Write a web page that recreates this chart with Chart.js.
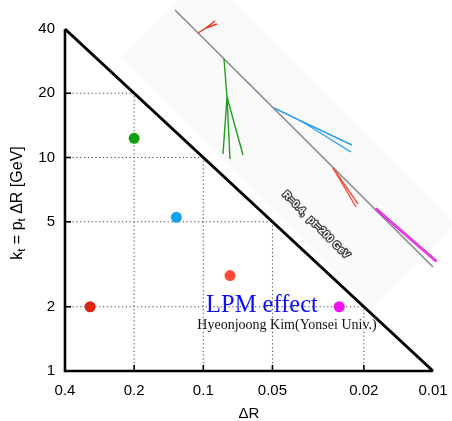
<!DOCTYPE html>
<html>
<head>
<meta charset="utf-8">
<script src="https://cdn.jsdelivr.net/npm/chart.js@4.4.0/dist/chart.umd.min.js"></script>
<style>
  html, body { margin: 0; padding: 0; background: #fff; }
  #wrap { width: 452px; height: 421px; }
</style>
</head>
<body>
<div id="wrap"><canvas id="lundPlane"></canvas></div>
<script>
// tick values
var xTicks = [0.4, 0.2, 0.1, 0.05, 0.02, 0.01];
var yTicks = [1, 2, 5, 10, 20, 40];

// emissions in the Lund plane
var emissionDR = [0.2, 0.131, 0.0765, 0.311, 0.0256];
var emissionKt = [12.3, 5.25, 2.8, 2.0, 2.0];
var emissionColors = ['#10a010', '#12a4f2', '#ff4b36', '#dc2410', '#ef12ef'];

// kinematic limit kt = pt * dR
var boundaryDR = [0.4, 0.01];
var boundaryKt = [40, 1];

var slope = Math.log(boundaryKt[1] / boundaryKt[0]) / Math.log(boundaryDR[1] / boundaryDR[0]);
function ktOnBoundary(dr) { return boundaryKt[0] * Math.pow(dr / boundaryDR[0], slope); }
function drOnBoundary(kt) { return boundaryDR[0] * Math.pow(kt / boundaryKt[0], 1 / slope); }

// jet picture pasted on the plot, offsets in px from chart area top-left
var jetPanel = [[55, 28], [140, -57], [391, 195], [306, 280]];
var jetAxis = [[110, -19], [368, 238]];
var jetBranches = [
  { color: '#e8321e', lines: [[[133, 4], [141, -1]], [[141, -1], [150, -8]], [[141, -1], [152, -5]]] },
  { color: '#1ea01e', lines: [[[159, 30], [162, 68]], [[162, 68], [158, 125]], [[162, 68], [165, 130]], [[162, 68], [178, 126]]] },
  { color: '#2aa0f0', lines: [[[209, 79], [236, 92]], [[236, 92], [287, 116]], [[236, 92], [286, 123]]] },
  { color: '#f2503a', lines: [[[268, 139], [291, 178]], [[268, 139], [293, 175]]] },
  { color: '#e620e6', lines: [[[310, 180], [371, 233]], [[311, 179], [372, 232]]] }
];

var lundDecor = {
  id: 'lundDecor',
  beforeDatasetsDraw: function(chart) {
    var ctx = chart.ctx, a = chart.chartArea, sx = chart.scales.x, sy = chart.scales.y;
    function P(p) { return [a.left + p[0], a.top + p[1]]; }

    ctx.save();
    // faint panel behind jet picture
    ctx.fillStyle = '#fafafa';
    ctx.beginPath();
    jetPanel.forEach(function(p, i) { var q = P(p); if (i) ctx.lineTo(q[0], q[1]); else ctx.moveTo(q[0], q[1]); });
    ctx.closePath();
    ctx.fill();

    // jet axis
    ctx.strokeStyle = '#8a8a8a';
    ctx.lineWidth = 1.6;
    ctx.beginPath();
    var s0 = P(jetAxis[0]), s1 = P(jetAxis[1]);
    ctx.moveTo(s0[0], s0[1]); ctx.lineTo(s1[0], s1[1]);
    ctx.stroke();

    ctx.lineWidth = 1.4;
    jetBranches.forEach(function(b) {
      ctx.strokeStyle = b.color;
      b.lines.forEach(function(l) {
        var p0 = P(l[0]), p1 = P(l[1]);
        ctx.beginPath(); ctx.moveTo(p0[0], p0[1]); ctx.lineTo(p1[0], p1[1]); ctx.stroke();
      });
    });

    // embossed label
    ctx.save();
    ctx.translate(a.left + 251, a.top + 196);
    ctx.rotate(Math.PI / 4);
    ctx.font = 'bold 10px "Liberation Sans"';
    ctx.textAlign = 'center';
    ctx.textBaseline = 'middle';
    ctx.lineJoin = 'round';
    ctx.strokeStyle = '#444';
    ctx.lineWidth = 2.6;
    ctx.strokeText('R=0.4,  pt=200 GeV', 0, 0);
    ctx.fillStyle = '#fff';
    ctx.fillText('R=0.4,  pt=200 GeV', 0, 0);
    ctx.restore();

    // dotted grid inside the triangle
    ctx.setLineDash([1.2, 2.6]);
    ctx.strokeStyle = '#444';
    ctx.lineWidth = 1;
    yTicks.slice(1, -1).forEach(function(v) {
      var py = sy.getPixelForValue(v);
      ctx.beginPath();
      ctx.moveTo(sx.getPixelForValue(xTicks[0]), py);
      ctx.lineTo(sx.getPixelForValue(drOnBoundary(v)), py);
      ctx.stroke();
    });
    xTicks.slice(1, -1).forEach(function(v) {
      var px = sx.getPixelForValue(v);
      ctx.beginPath();
      ctx.moveTo(px, sy.getPixelForValue(yTicks[0]));
      ctx.lineTo(px, sy.getPixelForValue(ktOnBoundary(v)));
      ctx.stroke();
    });
    ctx.setLineDash([]);

    // inner tick marks
    ctx.strokeStyle = '#000';
    ctx.lineWidth = 1.6;
    xTicks.slice(1, -1).forEach(function(v) {
      var px = sx.getPixelForValue(v);
      ctx.beginPath(); ctx.moveTo(px, a.bottom); ctx.lineTo(px, a.bottom - 6); ctx.stroke();
    });
    yTicks.slice(1, -1).forEach(function(v) {
      var py = sy.getPixelForValue(v);
      ctx.beginPath(); ctx.moveTo(a.left, py); ctx.lineTo(a.left + 6, py); ctx.stroke();
    });

    // axes
    ctx.lineWidth = 2.6;
    ctx.beginPath();
    ctx.moveTo(a.left, a.top);
    ctx.lineTo(a.left, a.bottom);
    ctx.lineTo(a.right, a.bottom);
    ctx.stroke();
    ctx.restore();
  },
  afterDraw: function(chart) {
    var ctx = chart.ctx, a = chart.chartArea;
    ctx.save();
    ctx.fillStyle = '#000';
    ctx.font = '15px "Liberation Sans"';
    ctx.textAlign = 'center';
    ctx.textBaseline = 'middle';
    ctx.fillText('ΔR', (a.left + a.right) / 2, 414);

    // y title with subscripts
    var parts = [['k', 0], ['t', 1], [' = p', 0], ['t', 1], [' ΔR [GeV]', 0]];
    var big = '16px "Liberation Sans"', small = '11.5px "Liberation Sans"';
    var total = 0;
    parts.forEach(function(p) { ctx.font = p[1] ? small : big; total += ctx.measureText(p[0]).width; });
    ctx.translate(16, (a.top + a.bottom) / 2 + 3);
    ctx.rotate(-Math.PI / 2);
    ctx.textAlign = 'left';
    ctx.textBaseline = 'alphabetic';
    var cx = -total / 2;
    parts.forEach(function(p) {
      ctx.font = p[1] ? small : big;
      ctx.fillText(p[0], cx, p[1] ? 9 : 6);
      cx += ctx.measureText(p[0]).width;
    });
    ctx.restore();

    ctx.save();
    ctx.textAlign = 'center';
    ctx.textBaseline = 'alphabetic';
    ctx.fillStyle = '#1010f0';
    ctx.font = '24.5px "Liberation Serif"';
    ctx.fillText('LPM effect', 262, 312);
    ctx.fillStyle = '#111';
    ctx.font = '14px "Liberation Serif"';
    ctx.fillText('Hyeonjoong Kim(Yonsei Univ.)', 287, 329);
    ctx.restore();
  }
};

var emissionPoints = emissionDR.map(function(d, i) { return { x: d, y: emissionKt[i] }; });
var boundaryPoints = boundaryDR.map(function(d, i) { return { x: d, y: boundaryKt[i] }; });

var lundCtx = document.getElementById('lundPlane').getContext('2d');
var lundChart = new Chart(lundCtx, {
  type: 'scatter',
  data: {
    datasets: [{
      data: emissionPoints,
      pointBackgroundColor: emissionColors,
      pointBorderWidth: 0,
      pointRadius: 5.5,
      clip: false
    }, {
      data: boundaryPoints,
      showLine: true,
      borderColor: '#000',
      borderWidth: 3,
      pointRadius: 0,
      clip: false
    }]
  },
  options: {
    responsive: true,
    maintainAspectRatio: false,
    animation: false,
    layout: { padding: { top: 29, right: 19, left: 0, bottom: 0 } },
    plugins: { legend: { display: false }, tooltip: { enabled: false } },
    scales: {
      x: {
        type: 'logarithmic', reverse: true, min: 0.01, max: 0.4,
        grid: { display: false, drawTicks: false }, border: { display: false },
        afterBuildTicks: function(s) { s.ticks = xTicks.map(function(v) { return { value: v }; }); },
        afterFit: function(s) { s.height = 50; s.paddingLeft = 0; s.paddingRight = 0; },
        ticks: {
          autoSkip: false, maxRotation: 0, padding: 11, color: '#000',
          font: { family: 'Liberation Sans', size: 15 },
          callback: function(v) { return String(v); }
        }
      },
      y: {
        type: 'logarithmic', min: 1, max: 40,
        grid: { display: false, drawTicks: false }, border: { display: false },
        afterBuildTicks: function(s) { s.ticks = yTicks.map(function(v) { return { value: v }; }); },
        afterFit: function(s) { s.width = 65; s.paddingTop = 0; s.paddingBottom = 0; },
        ticks: {
          autoSkip: false, padding: 10, color: '#000',
          font: { family: 'Liberation Sans', size: 15 },
          callback: function(v) { return String(v); }
        }
      }
    }
  },
  plugins: [lundDecor]
});
</script>
</body>
</html>
